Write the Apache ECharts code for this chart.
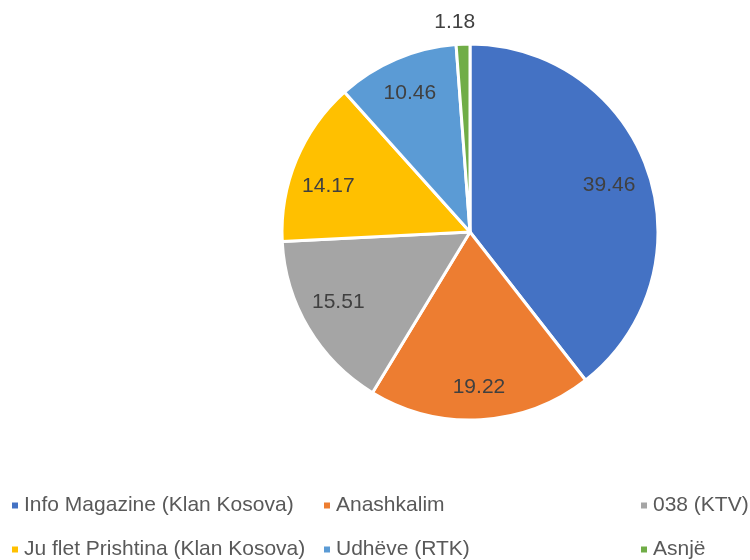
<!DOCTYPE html>
<html><head><meta charset="utf-8">
<script src="https://cdn.jsdelivr.net/npm/echarts@6/dist/echarts.min.js"></script>
<style>html,body{margin:0;padding:0;background:#fff}#c{width:750px;height:560px}</style>
</head><body><div id="c"></div>
<script>
const categories = ["Info Magazine (Klan Kosova)", "Anashkalim", "038 (KTV)", "Ju flet Prishtina (Klan Kosova)", "Udhëve (RTK)", "Asnjë"];
const values = [39.46, 19.22, 15.51, 14.17, 10.46, 1.18];
const colors = ["#4472C4", "#ED7D31", "#A5A5A5", "#FFC000", "#5B9BD5", "#70AD47"];
// label nudges (pixels), styling only
const labelOffsets = [[-6, 3], [0, 2], [0, -8], [0, 13], [0, 2], [18, 0]];
// legend layout: [left, top] per category
const legendPos = [[5, 490], [317, 490], [634, 490], [5, 534], [317, 534], [634, 534]];
const FONT = "'Liberation Sans', Arial, sans-serif";
const chart = echarts.init(document.getElementById('c'));
const R = 188;
const mainData = categories.map((n, i) => ({name: n, value: values[i], itemStyle: {color: colors[i]}}));
const overlayData = categories.map((n, i) => {
  const d = {name: n, value: values[i], label: {offset: labelOffsets[i]}};
  if (i === categories.length - 1) {
    d.label = {position: 'outside', offset: labelOffsets[i]};
    d.labelLine = {show: false, length: 22, length2: 0};
  }
  return d;
});
chart.setOption({
  color: colors,
  legend: categories.map((n, i) => ({
    left: legendPos[i][0], top: legendPos[i][1], data: [n],
    itemWidth: 8, itemHeight: 8, itemGap: 10, icon: 'rect', selectedMode: false,
    textStyle: {fontFamily: FONT, fontSize: 21, color: '#595959'}
  })),
  series: [
    {
      type: 'pie', center: [470, 232], radius: [0, R], startAngle: 90, clockwise: true,
      animation: false, label: {show: false}, labelLine: {show: false},
      itemStyle: {borderColor: '#fff', borderWidth: 3},
      data: mainData
    },
    {
      type: 'pie', center: [470, 232], radius: [R * 0.6, R], startAngle: 90, clockwise: true,
      animation: false, silent: true, legendHoverLink: false,
      itemStyle: {color: 'rgba(0,0,0,0)', borderWidth: 0},
      label: {show: true, position: 'inside', formatter: p => p.value.toFixed(2),
        fontFamily: FONT, fontSize: 21, color: '#404040'},
      labelLine: {show: false},
      data: overlayData
    }
  ]
});
</script></body></html>
